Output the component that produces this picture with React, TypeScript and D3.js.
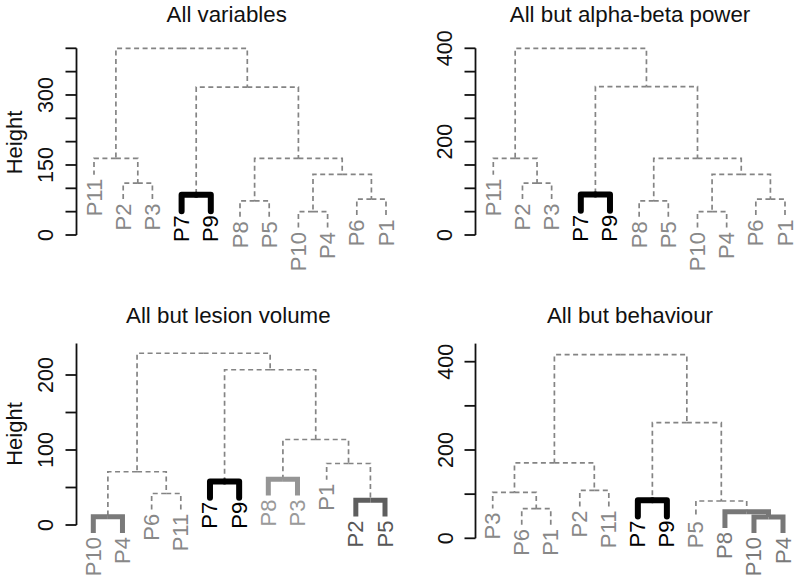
import React from "react";
import * as d3 from "d3";

type Ref = string | number;
type Merge = [Ref, Ref, number];

// leaf order and merges (numbers refer to earlier merges, 1-based) with heights
const titles = ["All variables", "All but alpha-beta power", "All but lesion volume", "All but behaviour"];

const leaves1 = ["P11", "P2", "P3", "P7", "P9", "P8", "P5", "P10", "P4", "P6", "P1"];
const merges1: Merge[] = [
  ["P10", "P4", 50], ["P8", "P5", 73], ["P6", "P1", 77], ["P7", "P9", 86], ["P2", "P3", 111],
  [1, 3, 130], ["P11", 5, 164], [2, 6, 164], [4, 8, 317], [7, 9, 400],
];

const leaves2 = ["P11", "P2", "P3", "P7", "P9", "P8", "P5", "P10", "P4", "P6", "P1"];
const merges2: Merge[] = [
  ["P10", "P4", 50], ["P8", "P5", 73], ["P6", "P1", 77], ["P7", "P9", 87], ["P2", "P3", 111],
  [1, 3, 130], ["P11", 5, 164], [2, 6, 164], [4, 8, 318], [7, 9, 400],
];

const leaves3 = ["P10", "P4", "P6", "P11", "P7", "P9", "P8", "P3", "P1", "P2", "P5"];
const merges3: Merge[] = [
  ["P10", "P4", 11], ["P2", "P5", 33], ["P6", "P11", 42], ["P7", "P9", 58], ["P8", "P3", 61],
  [1, 3, 71], ["P1", 2, 82], [5, 7, 114], [4, 8, 207], [6, 9, 229],
];

const leaves4 = ["P3", "P6", "P1", "P2", "P11", "P7", "P9", "P5", "P8", "P10", "P4"];
const merges4: Merge[] = [
  ["P10", "P4", 48.5], ["P8", 1, 60], ["P6", "P1", 67], ["P5", 2, 84.5], ["P7", "P9", 86],
  ["P3", 3, 104], ["P2", "P11", 108.5], [6, 7, 171], [5, 4, 262], [8, 9, 416],
];

// highlighted clusters per panel
const clusters1 = [["P7", "P9"]];
const clusters2 = [["P7", "P9"]];
const clusters3 = [["P7", "P9"], ["P10", "P4"], ["P8", "P3"], ["P2", "P5"]];
const clusters4 = [["P7", "P9"], ["P8", "P10", "P4"]];

const tickLabels1 = [0, 150, 300];
const tickLabels2 = [0, 200, 400];
const tickLabels3 = [0, 100, 200];
const tickLabels4 = [0, 200, 400];

const FONT = "'Liberation Sans', Arial, Helvetica, sans-serif";
const DASH_COLOR = "#848484";
const LEAF_COLOR = "#888888";

const clusterStyles = [
  [{ stroke: "#000", width: 6, label: "#000", cap: "round" }],
  [{ stroke: "#000", width: 6, label: "#000", cap: "round" }],
  [
    { stroke: "#000", width: 6, label: "#000", cap: "round" },
    { stroke: "#7a7a7a", width: 5, label: "#888888", cap: "butt" },
    { stroke: "#959595", width: 5, label: "#9a9a9a", cap: "butt" },
    { stroke: "#5e5e5e", width: 5, label: "#575757", cap: "butt" },
  ],
  [
    { stroke: "#000", width: 6, label: "#000", cap: "round" },
    { stroke: "#777777", width: 5, label: "#7a7a7a", cap: "butt" },
  ],
];

const panels = [
  { leaves: leaves1, merges: merges1, clusters: clusters1, ticks: tickLabels1, axisX: 76.5, xr: [94, 386], yd: 400, yr: [235, 48.3], axisTop: 400, step: 50, tcx: 226.7, tby: 21.5, tickX: 53, ylab: 142.5 },
  { leaves: leaves2, merges: merges2, clusters: clusters2, ticks: tickLabels2, axisX: 475.5, xr: [493.3, 785], yd: 400, yr: [235, 48.3], axisTop: 400, step: 50, tcx: 630, tby: 21.5, tickX: 452, ylab: null },
  { leaves: leaves3, merges: merges3, clusters: clusters3, ticks: tickLabels3, axisX: 76.5, xr: [93.3, 385], yd: 200, yr: [525, 375], axisTop: 242, step: 50, tcx: 228.3, tby: 323.3, tickX: 53, ylab: 434 },
  { leaves: leaves4, merges: merges4, clusters: clusters4, ticks: tickLabels4, axisX: 475.5, xr: [492.7, 783], yd: 400, yr: [538.3, 361.7], axisTop: 441, step: 100, tcx: 630, tby: 323.3, tickX: 452.5, ylab: null },
];

function Dendro({ p, idx }: { p: (typeof panels)[number]; idx: number }) {
  const x = d3.scaleLinear().domain([0, p.leaves.length - 1]).range(p.xr);
  const y = d3.scaleLinear().domain([0, p.yd]).range(p.yr);
  const styles = clusterStyles[idx];

  const heights = p.merges.map((m) => m[2]);
  const hang = 0.1 * ((d3.max(heights) as number) - (d3.min(heights) as number));

  const nodeX: number[] = [];
  const nodeSet: string[][] = [];
  const info = (r: Ref) =>
    typeof r === "string"
      ? { x: x(p.leaves.indexOf(r)), set: [r], leaf: true, h: 0 }
      : { x: nodeX[r - 1], set: nodeSet[r - 1], leaf: false, h: p.merges[r - 1][2] };

  const dashed: string[] = [];
  const thick: { d: string; s: any }[] = [];
  const leafEnds: { name: string; x: number; y: number }[] = [];

  p.merges.forEach((m, i) => {
    const a = info(m[0]);
    const b = info(m[1]);
    const H = m[2];
    const X = (a.x + b.x) / 2;
    const set = [...a.set, ...b.set];
    nodeX[i] = X;
    nodeSet[i] = set;
    const ci = p.clusters.findIndex((c) => set.every((s) => c.includes(s)));
    [a, b].forEach((c) => {
      const ch = c.leaf ? H - hang : c.h;
      if (c.leaf) leafEnds.push({ name: c.set[0], x: c.x, y: y(ch) });
      const d = `M${X},${y(H)}H${c.x}V${y(ch)}`;
      if (ci >= 0) thick.push({ d, s: styles[ci] });
      else dashed.push(d);
    });
  });

  const tickVals = d3.range(0, p.axisTop + 0.001, p.step);
  const labelColor = (name: string) => {
    const ci = p.clusters.findIndex((c) => c.includes(name));
    return ci >= 0 ? styles[ci].label : LEAF_COLOR;
  };

  return (
    <g>
      <text x={p.tcx} y={p.tby} textAnchor="middle" fontSize={22.3} fill="#111" fontFamily={FONT}>
        {titles[idx]}
      </text>
      {p.ylab !== null && (
        <text transform={`translate(21.5,${p.ylab}) rotate(-90)`} textAnchor="middle" fontSize={22} fill="#111" fontFamily={FONT}>
          Height
        </text>
      )}
      <line x1={p.axisX} x2={p.axisX} y1={y(0)} y2={y(p.axisTop)} stroke="#111" strokeWidth={1.8} />
      {tickVals.map((t) => (
        <line key={t} x1={p.axisX - 11} x2={p.axisX} y1={y(t)} y2={y(t)} stroke="#111" strokeWidth={1.8} />
      ))}
      {p.ticks.map((t) => (
        <text key={t} transform={`translate(${p.tickX},${y(t)}) rotate(-90)`} textAnchor="middle" fontSize={21.5} fill="#111" fontFamily={FONT}>
          {t}
        </text>
      ))}
      {dashed.map((d, i) => (
        <path key={i} d={d} fill="none" stroke={DASH_COLOR} strokeWidth={1.7} strokeDasharray="5,3.5" />
      ))}
      {thick.map((t, i) => (
        <path key={i} d={t.d} fill="none" stroke={t.s.stroke} strokeWidth={t.s.width} strokeLinecap={t.s.cap} strokeLinejoin={t.s.cap === "round" ? "round" : "miter"} />
      ))}
      {leafEnds.map((l) => (
        <text
          key={l.name}
          transform={`translate(${l.x + 7.5},${l.y + 4}) rotate(-90)`}
          textAnchor="end"
          fontSize={22}
          fill={labelColor(l.name)}
          fontFamily={FONT}
        >
          {l.name}
        </text>
      ))}
    </g>
  );
}

export default function App() {
  return (
    <svg width={800} height={579} style={{ position: "absolute", left: 0, top: 0, background: "#fff" }}>
      <rect width={800} height={579} fill="#fff" />
      {panels.map((p, i) => (
        <Dendro key={i} p={p} idx={i} />
      ))}
    </svg>
  );
}
